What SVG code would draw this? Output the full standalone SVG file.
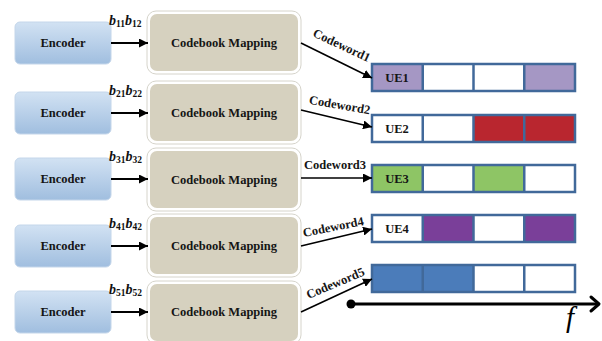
<svg xmlns="http://www.w3.org/2000/svg" width="602" height="341" viewBox="0 0 602 341">
  <defs>
    <linearGradient id="encGrad" x1="0" y1="0" x2="0" y2="1">
      <stop offset="0" stop-color="#d2e2f3"/>
      <stop offset="1" stop-color="#a0bedf"/>
    </linearGradient>
    <marker id="arrow" viewBox="0 0 10 10" refX="10" refY="5" markerWidth="9" markerHeight="9" markerUnits="userSpaceOnUse" orient="auto">
      <path d="M0,0 L10,5 L0,10 z" fill="#000"/>
    </marker>
    <style>
      .enc rect { fill: url(#encGrad); stroke: #c4d6ea; stroke-width: 1; }
      .cb rect.outer { fill: #fff; stroke: #d6d4cb; stroke-width: 1; }
      .cb rect.inner { fill: #d6d1bf; }
      .lbl { font-family: "Liberation Serif", "Times New Roman", serif; font-weight: bold; font-size: 12.5px; fill: #151515; }
      .b { font-family: "Liberation Serif", "Times New Roman", serif; font-weight: bold; font-style: italic; font-size: 14px; fill: #111; }
      .sub { font-size: 9.5px; font-style: normal; }
      .conn { stroke: #000; stroke-width: 1.6; fill: none; }
      .feed { stroke: #000; stroke-width: 2; fill: none; }
      .bar { stroke: #41699a; stroke-width: 2.5; }
      .sep { stroke: #41699a; stroke-width: 2.5; }
      .axis-label { font-family: "Liberation Serif", "Times New Roman", serif; font-style: italic; font-size: 29px; fill: #000; }
    </style>
  </defs>

  <rect width="602" height="341" fill="#fff"/>

  <!-- encoders -->
  <g id="enc1" class="enc"><rect x="15" y="22" width="96" height="42" rx="5"/><text class="lbl" x="63" y="47" text-anchor="middle">Encoder</text></g>
  <g id="enc2" class="enc"><rect x="15" y="92" width="96" height="42" rx="5"/><text class="lbl" x="63" y="117" text-anchor="middle">Encoder</text></g>
  <g id="enc3" class="enc"><rect x="15" y="158" width="96" height="42" rx="5"/><text class="lbl" x="63" y="183" text-anchor="middle">Encoder</text></g>
  <g id="enc4" class="enc"><rect x="15" y="225" width="96" height="42" rx="5"/><text class="lbl" x="63" y="250" text-anchor="middle">Encoder</text></g>
  <g id="enc5" class="enc"><rect x="15" y="291" width="96" height="42" rx="5"/><text class="lbl" x="63" y="316" text-anchor="middle">Encoder</text></g>

  <!-- codebook mapping blocks -->
  <g id="cb1" class="cb"><rect class="outer" x="147" y="11" width="154" height="63" rx="9"/><rect class="inner" x="150" y="14" width="148" height="57" rx="7"/><text class="lbl" x="224" y="47" text-anchor="middle">Codebook Mapping</text></g>
  <g id="cb2" class="cb"><rect class="outer" x="147" y="81" width="154" height="63" rx="9"/><rect class="inner" x="150" y="84" width="148" height="57" rx="7"/><text class="lbl" x="224" y="117" text-anchor="middle">Codebook Mapping</text></g>
  <g id="cb3" class="cb"><rect class="outer" x="147" y="148" width="154" height="63" rx="9"/><rect class="inner" x="150" y="151" width="148" height="57" rx="7"/><text class="lbl" x="224" y="184" text-anchor="middle">Codebook Mapping</text></g>
  <g id="cb4" class="cb"><rect class="outer" x="147" y="214" width="154" height="63" rx="9"/><rect class="inner" x="150" y="217" width="148" height="57" rx="7"/><text class="lbl" x="224" y="250" text-anchor="middle">Codebook Mapping</text></g>
  <g id="cb5" class="cb"><rect class="outer" x="147" y="281" width="154" height="63" rx="9"/><rect class="inner" x="150" y="284" width="148" height="57" rx="7"/><text class="lbl" x="224" y="316" text-anchor="middle">Codebook Mapping</text></g>

  <!-- resource bars -->
  <g id="ue1">
    <rect x="372" y="64" width="50.75" height="27" fill="#a597c4"/>
    <rect x="524.25" y="64" width="50.75" height="27" fill="#a597c4"/>
    <rect class="bar" x="372" y="64" width="203" height="27" fill="none"/>
    <path class="sep" d="M422.75,64V91M473.5,64V91M524.25,64V91"/>
    <text class="lbl" x="397" y="82" text-anchor="middle">UE1</text>
  </g>
  <g id="ue2">
    <rect x="473.5" y="115" width="101.5" height="27" fill="#b9262f"/>
    <rect class="bar" x="372" y="115" width="203" height="27" fill="none"/>
    <path class="sep" d="M422.75,115V142M473.5,115V142M524.25,115V142"/>
    <text class="lbl" x="397" y="133" text-anchor="middle">UE2</text>
  </g>
  <g id="ue3">
    <rect x="372" y="165" width="50.75" height="27" fill="#8ec565"/>
    <rect x="473.5" y="165" width="50.75" height="27" fill="#8ec565"/>
    <rect class="bar" x="372" y="165" width="203" height="27" fill="none"/>
    <path class="sep" d="M422.75,165V192M473.5,165V192M524.25,165V192"/>
    <text class="lbl" x="397" y="183" text-anchor="middle">UE3</text>
  </g>
  <g id="ue4">
    <rect x="422.75" y="215" width="50.75" height="27" fill="#7a3f99"/>
    <rect x="524.25" y="215" width="50.75" height="27" fill="#7a3f99"/>
    <rect class="bar" x="372" y="215" width="203" height="27" fill="none"/>
    <path class="sep" d="M422.75,215V242M473.5,215V242M524.25,215V242"/>
    <text class="lbl" x="397" y="233" text-anchor="middle">UE4</text>
  </g>
  <g id="ue5">
    <rect x="372" y="265" width="101.5" height="27" fill="#4b7cba"/>
    <rect class="bar" x="372" y="265" width="203" height="27" fill="none"/>
    <path class="sep" d="M422.75,265V292M473.5,265V292M524.25,265V292"/>
  </g>

  <!-- frequency axis -->
  <g id="axis">
    <circle cx="351" cy="304" r="4.5" fill="#000"/>
    <path d="M351,304H598" stroke="#000" stroke-width="3"/>
    <path d="M591,297L599,304L591,311" stroke="#000" stroke-width="3" fill="none" stroke-linecap="round" stroke-linejoin="round"/>
    <text class="axis-label" x="566" y="327">f</text>
  </g>

  <!-- connectors -->
  <g id="connectors">
    <line class="feed" x1="111" y1="43" x2="148" y2="43" marker-end="url(#arrow)"/>
    <line class="feed" x1="111" y1="113" x2="148" y2="113" marker-end="url(#arrow)"/>
    <line class="feed" x1="111" y1="179" x2="148" y2="179" marker-end="url(#arrow)"/>
    <line class="feed" x1="111" y1="246" x2="148" y2="246" marker-end="url(#arrow)"/>
    <line class="feed" x1="111" y1="312" x2="148" y2="312" marker-end="url(#arrow)"/>

    <line class="conn" x1="301" y1="43" x2="372" y2="78" marker-end="url(#arrow)"/>
    <line class="conn" x1="301" y1="110" x2="372" y2="127" marker-end="url(#arrow)"/>
    <line class="conn" x1="301" y1="178" x2="372" y2="178" marker-end="url(#arrow)"/>
    <line class="conn" x1="301" y1="246" x2="372" y2="229" marker-end="url(#arrow)"/>
    <line class="conn" x1="301" y1="312" x2="372" y2="279" marker-end="url(#arrow)"/>

    <text class="b" x="109" y="25">b<tspan class="sub" dy="2">11</tspan><tspan dy="-2">b</tspan><tspan class="sub" dy="2">12</tspan></text>
    <text class="b" x="109" y="95">b<tspan class="sub" dy="2">21</tspan><tspan dy="-2">b</tspan><tspan class="sub" dy="2">22</tspan></text>
    <text class="b" x="109" y="161">b<tspan class="sub" dy="2">31</tspan><tspan dy="-2">b</tspan><tspan class="sub" dy="2">32</tspan></text>
    <text class="b" x="109" y="228">b<tspan class="sub" dy="2">41</tspan><tspan dy="-2">b</tspan><tspan class="sub" dy="2">42</tspan></text>
    <text class="b" x="109" y="294">b<tspan class="sub" dy="2">51</tspan><tspan dy="-2">b</tspan><tspan class="sub" dy="2">52</tspan></text>

    <text class="lbl" text-anchor="middle" transform="translate(340,49) rotate(25)">Codeword1</text>
    <text class="lbl" text-anchor="middle" transform="translate(339,109) rotate(10)">Codeword2</text>
    <text class="lbl" text-anchor="middle" transform="translate(335,169)">Codeword3</text>
    <text class="lbl" text-anchor="middle" transform="translate(334,231) rotate(-11)">Codeword4</text>
    <text class="lbl" text-anchor="middle" transform="translate(337,287) rotate(-23)">Codeword5</text>
  </g>
</svg>
